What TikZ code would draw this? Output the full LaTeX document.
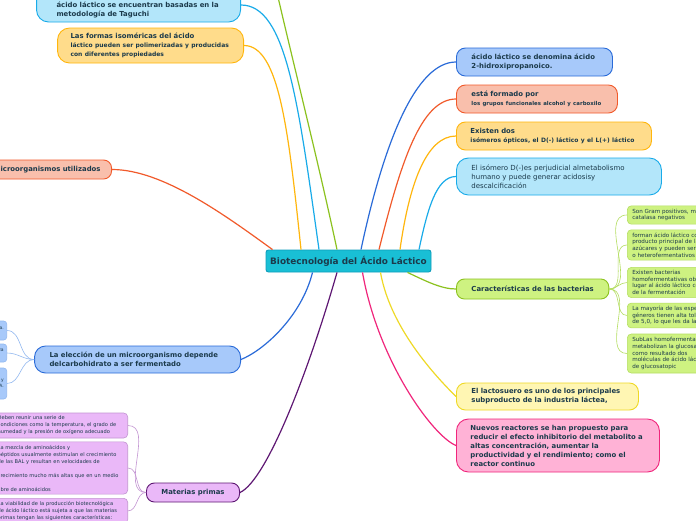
\documentclass[tikz,border=0pt]{standalone}
\usepackage{fontspec}
\setmainfont{DejaVu Sans}
\usepackage{tikz}

\definecolor{inktext}{HTML}{1B3A4B}
\definecolor{rootfill}{HTML}{19BFD5}
\definecolor{rootline}{HTML}{0F9DBB}
\definecolor{bluefill}{HTML}{A7C9FA}
\definecolor{blueline}{HTML}{2A6BD8}
\definecolor{salmonfill}{HTML}{F9BFAC}
\definecolor{salmonline}{HTML}{F15A2B}
\definecolor{orangefill}{HTML}{FFDC8B}
\definecolor{orangeline}{HTML}{FFB60D}
\definecolor{cyanfill}{HTML}{B3E6FA}
\definecolor{cyanline}{HTML}{19ABE9}
\definecolor{greenfill}{HTML}{CEF281}
\definecolor{greenline}{HTML}{8CC21F}
\definecolor{yellowfill}{HTML}{FFF6B3}
\definecolor{yellowline}{HTML}{EFD926}
\definecolor{pinkfill}{HTML}{FFB2D6}
\definecolor{pinkline}{HTML}{F0267C}
\definecolor{violetfill}{HTML}{EAB8F8}
\definecolor{violetline}{HTML}{5E1773}
\definecolor{violetsub}{HTML}{C394D2}
\definecolor{bluesub}{HTML}{93B9F0}
\definecolor{greensub}{HTML}{B5DE62}

\begin{document}
\begin{tikzpicture}
[x=1pt, y=-1pt,
baseshape/.style={draw, line width=0.9pt, text=inktext, align=left, inner ysep=0pt},
pillbox/.style={baseshape, rounded corners=9pt, inner xsep=15pt, font=\fontsize{6.9}{9}\selectfont\bfseries},
rootbox/.style={baseshape, rounded corners=2.5pt, fill=rootfill, draw=rootline, minimum width=165pt, minimum height=22pt, align=center, font=\fontsize{8.9}{10}\selectfont\bfseries},
leafbox/.style={baseshape, line width=0.6pt, rounded corners=4pt, inner xsep=5pt, inner ysep=3pt, font=\fontsize{5.1}{7}\selectfont},
greenleaf/.style={leafbox, anchor=west, fill=greenfill, draw=greensub, text width=150pt, font=\fontsize{5.6}{6.6}\selectfont},
violetleaf/.style={leafbox, fill=violetfill, draw=violetsub, text width=125pt},
blueleaf/.style={leafbox, anchor=east, fill=bluefill, draw=bluesub, inner xsep=3pt, rounded corners=3pt, font=\fontsize{4.5}{6}\selectfont},
branch/.style={line width=1.2pt},
twig/.style={line width=0.6pt},
]
\useasboundingbox (0,0) rectangle (696,520);
\fill [white] (0,0) rectangle (696,520);

\node (root) [rootbox] at (348.5,261) {Biotecnología del Ácido Láctico};

\node (nombre) [pillbox, anchor=west, fill=bluefill, draw=blueline, text width=126pt, minimum height=28pt] at (456,62) {ácido láctico se denomina ácido\\2-hidroxipropanoico.};
\node (formado) [pillbox, anchor=west, fill=salmonfill, draw=salmonline, text width=131pt, minimum height=28pt] at (456,99) {está formado por\\{\fontsize{5.4}{7}\selectfont los grupos funcionales alcohol y carboxilo}};
\node (isomeros) [pillbox, anchor=west, fill=orangefill, draw=orangeline, text width=167pt, inner xsep=14pt, minimum height=28pt] at (456,136) {Existen dos\\{\fontsize{6}{9}\selectfont isómeros ópticos, el D(-) láctico y el L(+) láctico}};
\node (perjudicial) [pillbox, anchor=west, fill=cyanfill, draw=cyanline, text width=175pt, minimum height=37pt, rounded corners=12pt, font=\fontsize{7}{9}\selectfont] at (456,176.5) {El isómero D(-)es perjudicial almetabolismo\\humano y puede generar acidosisy\\descalcificación};
\node (bacterias) [pillbox, anchor=west, fill=greenfill, draw=greenline, minimum width=145pt, minimum height=20pt, rounded corners=8pt, align=center] at (456,289) {Características de las bacterias};
\node (lactosuero) [pillbox, anchor=west, fill=yellowfill, draw=yellowline, text width=152pt, minimum height=27pt] at (456,396.5) {El lactosuero es uno de los principales\\subproducto de la industria láctea,};
\node (reactores) [pillbox, anchor=west, fill=pinkfill, draw=pinkline, text width=175pt, inner xsep=14pt, minimum height=53pt, rounded corners=12pt] at (456,445.5) {Nuevos reactores se han propuesto para\\reducir el efecto inhibitorio del metabolito a\\altas concentración, aumentar la\\productividad y el rendimiento; como el\\reactor continuo};

\node (taguchi) [pillbox, anchor=east, fill=cyanfill, draw=cyanline, text width=164pt, inner xsep=20pt, minimum height=34pt, rounded corners=12pt] at (241,5) {Las condiciones de producción del\\ácido láctico se encuentran basadas en la\\metodología de Taguchi};
\node (polimeros) [pillbox, anchor=east, fill=orangefill, draw=orangeline, text width=160pt, inner xsep=13pt, minimum height=35pt, rounded corners=12pt] at (244,45.5) {Las formas isoméricas del ácido\\{\fontsize{6}{9}\selectfont láctico pueden ser polimerizadas y producidas}\\{\fontsize{6}{9}\selectfont con diferentes propiedades}};
\node (microorg) [pillbox, anchor=east, fill=salmonfill, draw=salmonline, minimum height=19pt, rounded corners=8pt, inner xsep=11pt] at (112,169.5) {Microorganismos utilizados};
\node (eleccion) [pillbox, anchor=east, fill=bluefill, draw=blueline, text width=176pt, minimum height=27pt, rounded corners=11pt] at (241,359.5) {La elección de un microorganismo depende\\delcarbohidrato a ser fermentado};
\node (materias) [pillbox, anchor=east, fill=violetfill, draw=violetline, minimum width=86pt, minimum height=19pt, rounded corners=8pt, align=center] at (240,492.5) {Materias primas};
\coordinate (arriba) at (272,-30);

\node (gram) [greenleaf, minimum height=18pt] at (627,215) {Son Gram positivos, microaerófilos y\\catalasa negativos};
\node (forman) [greenleaf, minimum height=28pt] at (627,245) {forman ácido láctico como\\producto principal de la fermentación de\\azúcares y pueden ser homofermentativos\\o heterofermentativos};
\node (obligadas) [greenleaf, minimum height=29pt] at (627,282.5) {Existen bacterias\\homofermentativas obligadas que dan\\lugar al ácido láctico como producto final\\de la fermentación};
\node (tolerancia) [greenleaf, minimum height=21pt] at (627,315.5) {La mayoría de las especies de estos\\géneros tienen alta tolerancia a pH\\de 5,0, lo que les da la ventaja};
\node (glucosatopic) [greenleaf, minimum height=39pt] at (627,353.5) {SubLas homofermentativas\\metabolizan la glucosa y producen\\como resultado dos\\moléculas de ácido láctico por mol\\de glucosatopic};

\node (glucosa) [blueleaf, minimum height=19pt] at (7,330.5) {Glucosa: Lactobacillus delbrueckii subsp. bulgarica.\\Lactobacillus casei};
\node (melaza) [blueleaf, minimum height=18pt] at (7,353) {Sacarosa: Lactobacillus delbrueckii en la melaza\\de caña};
\node (almidon) [blueleaf, minimum height=31pt, align=right] at (7,383.5) {Almidón: Lactobacillus amylophilus y\\Lactobacillus amylovorus ATCC 33620 A.};

\node (condiciones) [violetleaf, anchor=east, minimum height=25pt] at (128,425.5) {Deben reunir una serie de\\condiciones como la temperatura, el grado de\\humedad y la presión de oxígeno adecuado};
\node (aminoacidos) [violetleaf, anchor=east, minimum height=50pt] at (128,468) {La mezcla de aminoácidos y\\péptidos usualmente estimulan el crecimiento\\de las BAL y resultan en velocidades de\\[7pt]crecimiento mucho más altas que en un medio\\[7pt]libre de aminoácidos};
\node (viabilidad) [violetleaf, anchor=north east] at (128,498) {La viabilidad de la producción biotecnológica\\de ácido láctico está sujeta a que las materias\\primas tengan las siguientes características:};

\draw [branch, draw=blueline] ([xshift=12.5pt]root.north) to[out=78, in=180, out distance=110pt, in distance=40pt] (nombre.west);
\draw [branch, draw=salmonline] ([xshift=30.5pt]root.north) to[out=76, in=180, out distance=90pt, in distance=35pt] (formado.west);
\draw [branch, draw=orangeline] ([xshift=51.5pt]root.north) to[out=82, in=180, out distance=65pt, in distance=30pt] (isomeros.west);
\draw [branch, draw=cyanline] ([xshift=70.5pt]root.north) to[out=78, in=180, out distance=40pt, in distance=20pt] (perjudicial.west);
\draw [branch, draw=greenline] ([xshift=59pt]root.south) to[out=-25, in=180, out distance=20pt, in distance=15pt] (bacterias.west);
\draw [branch, draw=yellowline] ([xshift=32pt]root.south) to[out=-80, in=135, out distance=60pt, in distance=20pt] (lactosuero.west);
\draw [branch, draw=pinkline] ([xshift=14pt]root.south) to[out=-80, in=158, out distance=90pt, in distance=25pt] (reactores.west);

\draw [branch, draw=cyanline] ([xshift=-29.5pt]root.north) to[out=98, in=0, out distance=150pt, in distance=45pt] (taguchi.east);
\draw [branch, draw=orangeline] ([xshift=-47.5pt]root.north) to[out=96, in=0, out distance=120pt, in distance=35pt] (polimeros.east);
\draw [branch, draw=salmonline] ([xshift=-76pt]root.north) to[out=144, in=0, out distance=60pt, in distance=50pt] (microorg.east);
\draw [branch, draw=greenline] ([xshift=-11.5pt]root.north) to[out=102, in=-78, out distance=100pt, in distance=60pt] (arriba);
\draw [branch, draw=blueline] ([xshift=-36pt]root.south) to[out=-104, in=22, out distance=45pt, in distance=25pt] (eleccion.east);
\draw [branch, draw=violetline] ([xshift=-11.5pt]root.south) to[out=-106, in=25, out distance=100pt, in distance=30pt] (materias.east);

\foreach \leaf in {gram, forman, obligadas, tolerancia, glucosatopic}
  \draw [twig, draw=greensub] (bacterias.east) to[out=0, in=180] (\leaf.west);
\foreach \leaf in {glucosa, melaza, almidon}
  \draw [twig, draw=bluesub] (eleccion.west) to[out=180, in=0] (\leaf.east);
\foreach \leaf in {condiciones, aminoacidos, viabilidad}
  \draw [twig, draw=violetsub] (materias.west) to[out=180, in=0] (\leaf.east);
\end{tikzpicture}
\end{document}
